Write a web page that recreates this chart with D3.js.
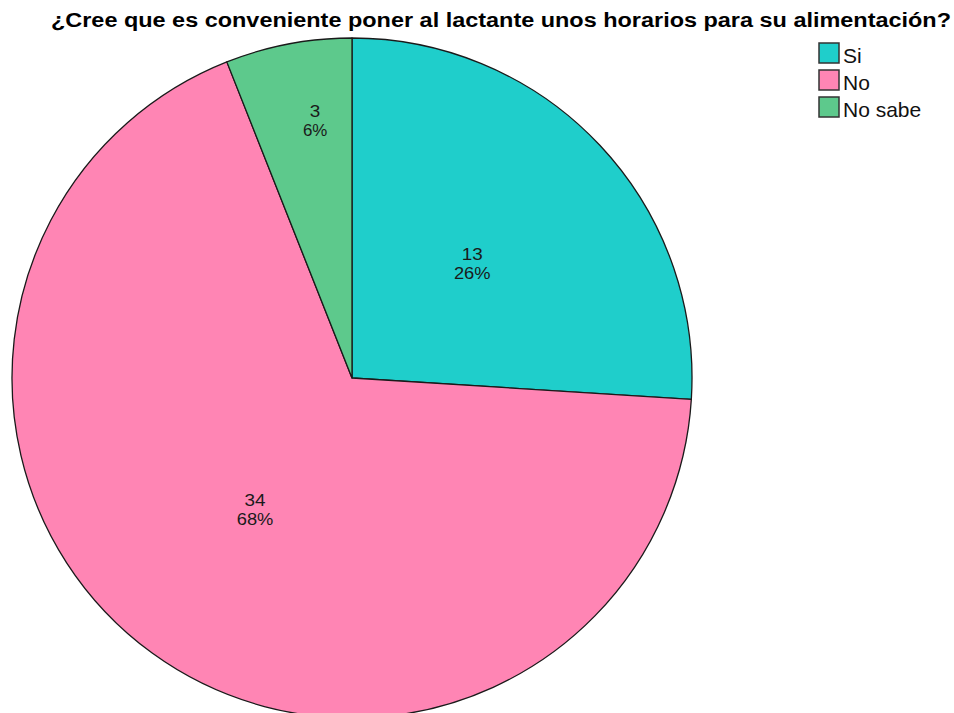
<!DOCTYPE html>
<html>
<head>
<meta charset="utf-8">
<script src="https://cdn.jsdelivr.net/npm/d3@7/dist/d3.min.js"></script>
<style>
  html, body { margin: 0; padding: 0; background: #fff; }
  svg { display: block; }
</style>
</head>
<body>
<svg id="chart" width="954" height="713"></svg>
<script>
// Survey answers
const categories = ["Si", "No", "No sabe"];
const counts = [13, 34, 3];
const percentLabels = ["26%", "68%", "6%"];
const colors = ["#1fcecb", "#ff85b4", "#5dc98c"];
const title = "¿Cree que es conveniente poner al lactante unos horarios para su alimentación?";

const svg = d3.select("#chart");
const cx = 352, cy = 378, radius = 340;
const font = "Liberation Sans, Arial, sans-serif";

// Title, stretched across the top
svg.append("text")
  .attr("x", 51)
  .attr("y", 27)
  .attr("font-family", font)
  .attr("font-weight", "bold")
  .attr("font-size", 20)
  .attr("textLength", 900)
  .attr("lengthAdjust", "spacingAndGlyphs")
  .attr("fill", "#000")
  .text(title);

const data = categories.map((c, i) => ({ name: c, value: counts[i], pct: percentLabels[i], color: colors[i] }));

const pie = d3.pie().value(d => d.value).sort(null);
const arcs = pie(data);
const arc = d3.arc().innerRadius(0).outerRadius(radius);

const g = svg.append("g").attr("transform", `translate(${cx},${cy})`);

g.selectAll("path.slice")
  .data(arcs)
  .enter().append("path")
  .attr("class", "slice")
  .attr("d", arc)
  .attr("fill", d => d.data.color)
  .attr("stroke", "#1a1a1a")
  .attr("stroke-width", 1.3)
  .attr("stroke-linejoin", "round");

// Labels: narrow slices get their label pushed toward the rim
const labelG = g.selectAll("g.lbl")
  .data(arcs)
  .enter().append("g")
  .attr("class", "lbl")
  .attr("transform", d => {
    const span = d.endAngle - d.startAngle;
    const narrow = span < 0.6;
    const f = narrow ? 0.76 : 0.485;
    const a = narrow ? d.startAngle + span * 0.62 : (d.startAngle + d.endAngle) / 2;
    return `translate(${Math.sin(a) * radius * f},${-Math.cos(a) * radius * f})`;
  });

labelG.append("text")
  .attr("text-anchor", "middle")
  .attr("y", -5)
  .attr("font-family", font)
  .attr("font-size", 17)
  .attr("textLength", d => String(d.data.value).length * 10.5)
  .attr("lengthAdjust", "spacingAndGlyphs")
  .attr("fill", "#1a1a1a")
  .text(d => d.data.value);

labelG.append("text")
  .attr("text-anchor", "middle")
  .attr("y", 14)
  .attr("font-family", font)
  .attr("font-size", 17)
  .attr("textLength", d => d.data.pct.length * 12.2)
  .attr("lengthAdjust", "spacingAndGlyphs")
  .attr("fill", "#1a1a1a")
  .text(d => d.data.pct);

// Legend
const legend = svg.append("g").attr("transform", "translate(819,43)");
const items = legend.selectAll("g")
  .data(data)
  .enter().append("g")
  .attr("transform", (d, i) => `translate(0,${i * 27})`);

items.append("rect")
  .attr("width", 20)
  .attr("height", 20)
  .attr("fill", d => d.color)
  .attr("stroke", "#333")
  .attr("stroke-width", 1.5);

items.append("text")
  .attr("x", 24)
  .attr("y", 20)
  .attr("font-family", font)
  .attr("font-size", 21)
  .attr("fill", "#111")
  .text(d => d.name);
</script>
</body>
</html>
